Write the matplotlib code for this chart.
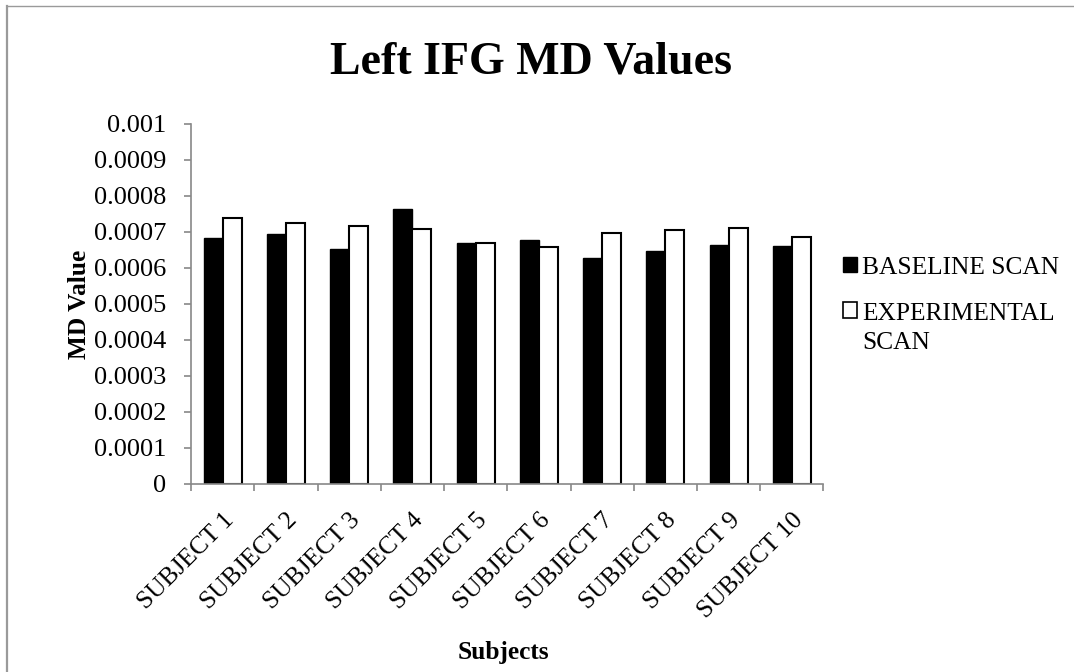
import matplotlib
matplotlib.use("Agg")
import matplotlib.pyplot as plt
import matplotlib.transforms as mtransforms
import numpy as np
from matplotlib.patches import Rectangle, Patch
from matplotlib.legend_handler import HandlerPatch
from matplotlib.ticker import FixedLocator

subjects = ["SUBJECT 1", "SUBJECT 2", "SUBJECT 3", "SUBJECT 4", "SUBJECT 5",
            "SUBJECT 6", "SUBJECT 7", "SUBJECT 8", "SUBJECT 9", "SUBJECT 10"]
baseline = [0.000682, 0.000694, 0.000652, 0.000763, 0.000670,
            0.000677, 0.000627, 0.000648, 0.000663, 0.000661]
experimental = [0.000740, 0.000726, 0.000717, 0.000708, 0.000670,
                0.000659, 0.000698, 0.000705, 0.000710, 0.000685]
yticks = [0, 0.0001, 0.0002, 0.0003, 0.0004, 0.0005, 0.0006, 0.0007, 0.0008, 0.0009, 0.001]
ytick_labels = ["0", "0.0001", "0.0002", "0.0003", "0.0004", "0.0005",
                "0.0006", "0.0007", "0.0008", "0.0009", "0.001"]

plt.rcParams['font.family'] = ['Liberation Serif', 'DejaVu Serif']

W, H = 1074, 672
fig = plt.figure(figsize=(W / 100, H / 100), dpi=100)
# outer chart-area border (left and top visible)
fig.add_artist(plt.Line2D([7 / W, 7 / W], [0, 1 - 5.5 / H], transform=fig.transFigure,
                          color='#9a9a9a', linewidth=1.6))
fig.add_artist(plt.Line2D([7 / W, 1], [1 - 5.5 / H, 1 - 5.5 / H], transform=fig.transFigure,
                          color='#9a9a9a', linewidth=1.0))

ax = fig.add_axes([191 / W, 1 - 484 / H, (823.5 - 191) / W, (484 - 124) / H])

x = np.arange(len(subjects))
w = 0.3
ax.bar(x - w / 2, baseline, width=w, color='black', edgecolor='black', linewidth=1.0)
ax.bar(x + w / 2, experimental, width=w, color='white', edgecolor='black', linewidth=1.5)

ax.set_xlim(-0.5, len(subjects) - 0.5)
ax.set_ylim(0, 0.001)
ax.set_yticks(yticks)
ax.set_yticklabels(ytick_labels, fontsize=19)

ax.set_xticks(x)
ax.set_xticklabels(subjects, rotation=45, ha='right', rotation_mode='anchor', fontsize=18.3)
shift = mtransforms.ScaledTranslation(-4 / 100, 0, fig.dpi_scale_trans)
for lbl in ax.get_xticklabels():
    lbl.set_transform(lbl.get_transform() + shift)
ax.tick_params(axis='x', which='major', length=0, pad=18)
ax.xaxis.set_minor_locator(FixedLocator(np.arange(-0.5, len(subjects), 1.0)))
ax.tick_params(axis='x', which='minor', length=5, color='#888888', width=1.2)
ax.tick_params(axis='y', length=5, color='#888888', width=1.2, pad=13)

for s in ['top', 'right']:
    ax.spines[s].set_visible(False)
for s in ['left', 'bottom']:
    ax.spines[s].set_color('#888888')
    ax.spines[s].set_linewidth(1.2)

ax.set_ylabel("MD Value", fontsize=18.3, fontweight='bold', labelpad=2)
fig.text(503 / W, 1 - 653 / H, "Subjects", fontsize=18.3, fontweight='bold', ha='center', va='center')
fig.text(531 / W, 1 - 63 / H, "Left IFG MD Values", fontsize=33, fontweight='bold', ha='center', va='center')


class TopHandler(HandlerPatch):
    def __init__(self, shift=0.0, **kw):
        super().__init__(**kw)
        self.shift = shift

    def create_artists(self, legend, orig_handle, xdescent, ydescent, width, height, fontsize, trans):
        p = Rectangle((-xdescent, -ydescent + self.shift * fontsize), width, height)
        self.update_prop(p, orig_handle, legend)
        p.set_transform(trans)
        return [p]


h1 = Patch(facecolor='black', edgecolor='black')
h2 = Patch(facecolor='white', edgecolor='black', linewidth=1.2)
leg = fig.legend([h1, h2], ["BASELINE SCAN", "EXPERIMENTAL\nSCAN"], loc='upper left',
                 bbox_to_anchor=(0.764, 0.652), frameon=False, fontsize=18.3,
                 handlelength=0.55, handleheight=0.55, handletextpad=0.2, labelspacing=0.95,
                 handler_map={h1: TopHandler(0.0), h2: TopHandler(0.7)})
leg.get_texts()[1].set_linespacing(1.4)

fig.savefig("out.png", dpi=100)
